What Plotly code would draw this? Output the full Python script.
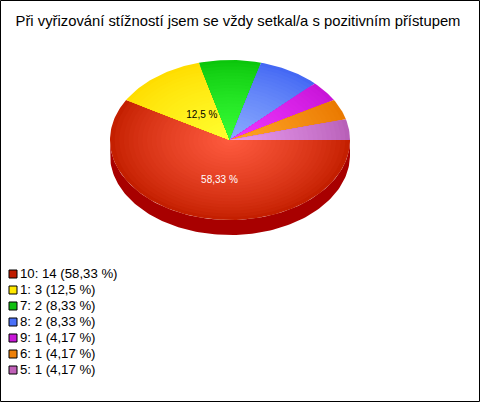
import math
import plotly.graph_objects as go

categories = ["10", "1", "7", "8", "9", "6", "5"]
counts = [14, 3, 2, 2, 1, 1, 1]
percent_labels = ["58,33", "12,5", "8,33", "8,33", "4,17", "4,17", "4,17"]
outer_colors = ["#c41f00", "#ffdd00", "#0cc60c", "#4468f4", "#c814d8", "#ea7a00", "#b860b8"]
inner_colors = ["#ff5c40", "#ffff30", "#38ff38", "#8cacff", "#f038ff", "#ffa428", "#e89cf0"]
legend_colors = ["#c01c00", "#ffe800", "#10c010", "#4a70f8", "#c818d8", "#ee8008", "#c060b8"]
side_color = "#a80000"
title_text = "Při vyřizování stížností jsem se vždy setkal/a s pozitivním přístupem"

W, H = 480, 402
CX, CY, RX, RY, DEPTH = 230, 140, 120, 80, 15
RINGS = 26


def hex_rgb(h):
    return [int(h[i:i + 2], 16) for i in (1, 3, 5)]


def mix(a, b, t):
    ca, cb = hex_rgb(a), hex_rgb(b)
    return "rgb(%d,%d,%d)" % tuple(round(p + (q - p) * t) for p, q in zip(ca, cb))


def arc(a0, a1, k=1.0, dy=0.0):
    n = max(2, int(abs(a1 - a0) / 1.5))
    angs = [a0 + (a1 - a0) * i / n for i in range(n + 1)]
    xs = [CX + RX * k * math.cos(math.radians(a)) for a in angs]
    ys = [CY + dy + RY * k * math.sin(math.radians(a)) for a in angs]
    return xs, ys


fig = go.Figure()
total = sum(counts)
spans = []
a = 0.0
for c in counts:
    spans.append((a, a + 360.0 * c / total))
    a += 360.0 * c / total

# extruded side (visible front half only)
for a0, a1 in spans:
    s0, s1 = max(a0, 0), min(a1, 180)
    if s1 <= s0:
        continue
    tx, ty = arc(s0, s1)
    bx, by = arc(s1, s0, dy=DEPTH)
    fig.add_trace(go.Scatter(x=tx + bx, y=ty + by, mode="lines", fill="toself",
                             fillcolor=side_color, line=dict(width=0), hoverinfo="skip"))

# top face, radial shading built from concentric wedges
for (a0, a1), oc, ic in zip(spans, outer_colors, inner_colors):
    for r in range(RINGS):
        k = 1 - r / RINGS
        xs, ys = arc(a0, a1, k)
        fig.add_trace(go.Scatter(x=[CX] + xs + [CX], y=[CY] + ys + [CY], mode="lines",
                                 fill="toself", fillcolor=mix(oc, ic, (1 - k) ** 0.8),
                                 line=dict(width=0), hoverinfo="skip"))

# slice labels (only slices of at least 10 %)
label_colors = {"10": "#ffffff", "1": "#000000"}
label_fx = {"10": 0.34, "1": 0.385}
label_fy = {"10": 0.53, "1": 0.385}
for cat, pct, (a0, a1) in zip(categories, percent_labels, spans):
    if cat in label_colors:
        mid = math.radians((a0 + a1) / 2)
        fig.add_trace(go.Scatter(
            x=[CX + RX * label_fx[cat] * math.cos(mid)],
            y=[CY + RY * label_fy[cat] * math.sin(mid)],
            mode="text", text=[pct + " %"], textposition="middle center",
            textfont=dict(family="Liberation Sans, Arial", size=10, color=label_colors[cat]),
            hoverinfo="skip"))

# legend rows
rows = [274 + 16 * i for i in range(len(categories))]
fig.add_trace(go.Scatter(
    x=[13] * len(categories), y=rows, mode="markers",
    marker=dict(symbol="square", size=8, color=legend_colors, line=dict(color="#000000", width=1)),
    hoverinfo="skip"))
fig.add_trace(go.Scatter(
    x=[20] * len(categories), y=[r + 1 for r in rows], mode="text",
    text=[f"{c}: {v} ({p} %)" for c, v, p in zip(categories, counts, percent_labels)],
    textposition="middle right",
    textfont=dict(family="Liberation Sans, Arial", size=13.2, color="#000000"),
    hoverinfo="skip"))

fig.update_layout(
    width=W, height=H, autosize=False,
    margin=dict(l=0, r=0, t=0, b=0, pad=0),
    paper_bgcolor="#ffffff", plot_bgcolor="#ffffff",
    showlegend=False,
    xaxis=dict(range=[0, W], visible=False, fixedrange=True),
    yaxis=dict(range=[H, 0], visible=False, fixedrange=True),
    title=dict(text=title_text, x=238 / W, xanchor="center", y=1 - 20.5 / H, yanchor="middle",
               font=dict(family="Liberation Sans, Arial", size=14.8, color="#000000")),
    shapes=[dict(type="rect", xref="x", yref="y", x0=0.5, y0=0.5, x1=W - 0.5, y1=H - 0.5,
                 line=dict(color="#000000", width=1), fillcolor="rgba(0,0,0,0)")],
)

fig.write_html("out.html", config={"displayModeBar": False},
               post_script="document.body.style.margin='0';")
